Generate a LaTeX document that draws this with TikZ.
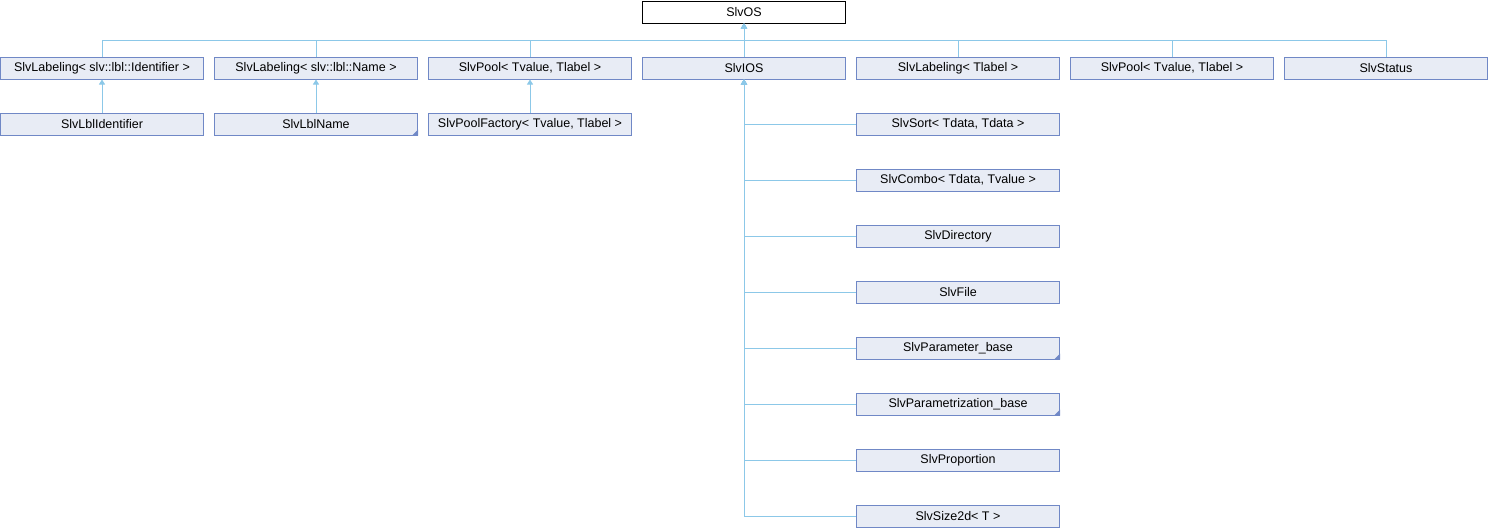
\documentclass[tikz,border=0pt]{standalone}
\usepackage{fontspec}
\setmainfont{Liberation Sans}
\usepackage{tikz}
\usetikzlibrary{positioning,arrows.meta}
\definecolor{boxfill}{HTML}{E8ECF5}
\definecolor{boxline}{HTML}{7088C6}
\definecolor{edgeblue}{HTML}{8CC8E8}
\tikzset{
  cls/.style={draw=boxline,fill=boxfill,line width=1pt,minimum width=203pt,minimum height=22pt,inner sep=0pt,font=\fontsize{12.5}{14}\selectfont},
  top/.style={cls,draw=black,fill=white},
  inherit/.style={draw=edgeblue,line width=1pt,{Triangle[width=6pt,length=5pt]}-}
}

\begin{document}
\begin{tikzpicture}[x=1pt,y=-1pt,node distance=56pt and 214pt,on grid]
    \useasboundingbox (0,0) rectangle (1488,528);
    \node[top] (os) at (744,12) {SlvOS};
    \node[cls] (ios) [below = of os] {SlvIOS};
    \node[cls] (pool) [left = of ios] {SlvPool< Tvalue, Tlabel >};
    \node[cls] (lblname) [left = of pool] {SlvLabeling< slv::lbl::Name >};
    \node[cls] (lblid) [left = of lblname] {SlvLabeling< slv::lbl::Identifier >};
    \node[cls] (lbltpl) [right = of ios] {SlvLabeling< Tlabel >};
    \node[cls] (pooltpl) [right = of lbltpl] {SlvPool< Tvalue, Tlabel >};
    \node[cls] (status) [right = of pooltpl] {SlvStatus};
    \node[cls] (lblidc) [below = of lblid] {SlvLblIdentifier};
    \node[cls] (lblnamec) [below = of lblname] {SlvLblName};
    \node[cls] (factory) [below = of pool] {SlvPoolFactory< Tvalue, Tlabel >};
    \node[cls] (sort) [below = of lbltpl] {SlvSort< Tdata, Tdata >};
    \node[cls] (combo) [below = of sort] {SlvCombo< Tdata, Tvalue >};
    \node[cls] (dir) [below = of combo] {SlvDirectory};
    \node[cls] (file) [below = of dir] {SlvFile};
    \node[cls] (param) [below = of file] {SlvParameter\_base};
    \node[cls] (paramz) [below = of param] {SlvParametrization\_base};
    \node[cls] (prop) [below = of paramz] {SlvProportion};
    \node[cls] (size) [below = of prop] {SlvSize2d< T >};
    \coordinate (bus) at (744,40);
    % inheritance from SlvOS
    \draw[inherit] (os.south) -- (ios.north);
    \foreach \c in {lblid,lblname,pool,lbltpl,pooltpl,status}
      \draw[inherit] (os.south) -- (bus) -| (\c.north);
    % second row
    \draw[inherit] (lblid.south) -- (lblidc.north);
    \draw[inherit] (lblname.south) -- (lblnamec.north);
    \draw[inherit] (pool.south) -- (factory.north);
    \foreach \c in {sort,combo,dir,file,param,paramz,prop,size}
      \draw[inherit] (ios.south) |- (\c.west);
    % truncated subclasses
    \foreach \c in {lblnamec,param,paramz}
      \fill[boxline] (\c.south east) -- ++(-6,0) -- ++(6,-6) -- cycle;
\end{tikzpicture}
\end{document}
